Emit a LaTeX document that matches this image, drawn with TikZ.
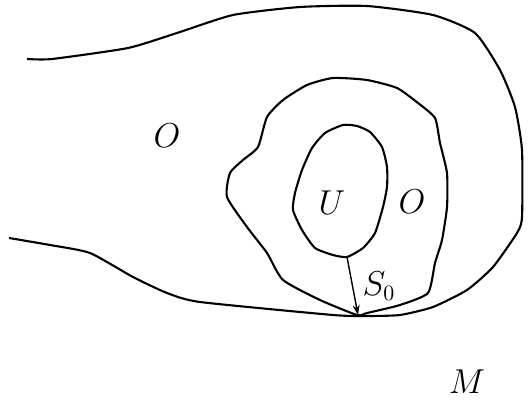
\documentclass[tikz,border=0pt]{standalone}
\usepackage{tikz}
\usetikzlibrary{arrows.meta}

\begin{document}
\begin{tikzpicture}[x=0.5pt, y=-0.5pt, font=\fontsize{16}{19}\selectfont,
  curve/.style={line width=1.05pt, line join=round},
  lbl/.style={inner sep=0pt},
  arr/.style={-{Stealth[length=5pt, width=3.5pt]}, line width=0.7pt}]
\useasboundingbox (0,0) rectangle (531,401);
\draw[curve] plot[smooth, tension=0.35] coordinates {(27,59) (52,59) (128,48) (177,33) (233,15) (300,7) (367,6) (433,15) (475,33) (500,70) (515,107) (522,150) (522,217) (517,233) (493,267) (467,290) (433,307) (400,315) (367,316) (333,315) (200,302) (167,293) (133,277) (90,253) (50,245) (9,238)};
\draw[curve] plot[smooth cycle, tension=0.35] coordinates {(333,78) (367,80) (397,88) (418,103) (435,118) (440,143) (447,173) (447,207) (442,240) (435,263) (428,293) (400,305) (367,313) (357,315) (320,300) (283,280) (267,253) (247,227) (227,197) (230,173) (243,160) (258,147) (267,117) (283,100) (307,85)};
\draw[curve] plot[smooth cycle, tension=0.35] coordinates {(343,125) (357,126) (370,132) (382,147) (387,167) (387,187) (383,207) (375,233) (363,248) (347,257) (333,255) (315,248) (302,230) (293,210) (295,193) (302,170) (312,148) (325,133)};
\coordinate (s0top) at (347,257);
\coordinate (s0foot) at (358,315);
\draw[arr] (s0top) -- (s0foot);
\node[lbl] (oleft) at (167,136) {$O$};
\node[lbl] (u) at (332,203) {$U$};
\node[lbl] (oright) at (412,202) {$O$};
\node[lbl] (s0) at (379,286) {$S_0$};
\node[lbl] (m) at (467,382) {$M$};
\end{tikzpicture}
\end{document}
